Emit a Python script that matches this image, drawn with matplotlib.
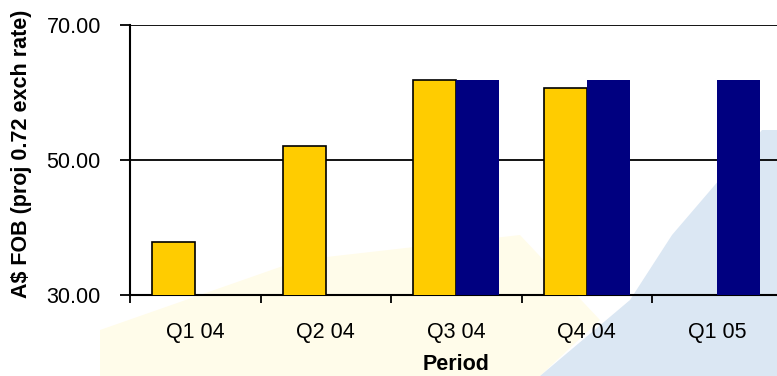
#!/usr/bin/env python3
"""A$ FOB by period - grouped bar chart"""

import numpy as np
import matplotlib.pyplot as plt
from matplotlib.patches import Polygon

plt.rcParams['font.family'] = ['Liberation Sans', 'DejaVu Sans']

# data
periods = ['Q1 04', 'Q2 04', 'Q3 04', 'Q4 04', 'Q1 05']
series_yellow = [37.9, 52.1, 61.8, 60.7, np.nan]
series_blue = [np.nan, np.nan, 61.9, 61.9, 61.9]
y_ticks = [30, 50, 70]

W, H = 777, 376
fig = plt.figure(figsize=(W / 100, H / 100), dpi=100)


def px(x, y):
    # pixel (from top-left) -> figure fraction
    return (x / W, 1 - y / H)


# faint watermark behind the chart
blue_bg = [(762, 130), (777, 130), (777, 376), (540, 376), (630, 300), (672, 235)]
yellow_bg = [(100, 376), (540, 376), (600, 320), (520, 235), (300, 260), (100, 330)]
fig.patches.append(Polygon([px(*p) for p in yellow_bg], closed=True,
                           transform=fig.transFigure, fc='#fffcea', ec='none', zorder=-5))
fig.patches.append(Polygon([px(*p) for p in blue_bg], closed=True,
                           transform=fig.transFigure, fc='#dbe7f3', ec='none', zorder=-5))

# axes runs past the right edge of the picture, like the reference
left, bottom_px, top_px, cat_w = 130, 295.3, 25, 130.5
ax = fig.add_axes([left / W, 1 - bottom_px / H, 5 * cat_w / W, (bottom_px - top_px) / H])
ax.set_facecolor('none')

x = np.arange(len(periods))
bw = 0.33
ax.bar(x - bw / 2, series_yellow, bw, color='#ffcc00',
       edgecolor='black', linewidth=1.2, zorder=3)
ax.bar(x + bw / 2, series_blue, bw, color='#000080', edgecolor='none', zorder=3)

ax.set_xlim(-0.5, len(periods) - 0.5)
ax.set_ylim(30, 70)
ax.set_yticks(y_ticks)
ax.set_yticklabels([f'{v:.2f}' for v in y_ticks])
ax.yaxis.grid(True, color='black', linewidth=1.3)
ax.set_axisbelow(True)

ax.set_xticks(x)
ax.set_xticklabels(periods)
ax.set_xticks(np.arange(len(periods) + 1) - 0.5, minor=True)
ax.tick_params(axis='x', which='major', length=0, pad=19, labelsize=15.5)
ax.tick_params(axis='x', which='minor', length=6, width=1.3, direction='out')
ax.tick_params(axis='y', length=7, width=1.3, pad=14, labelsize=15.5)

for s in ['top', 'right']:
    ax.spines[s].set_visible(False)
for s in ['left', 'bottom']:
    ax.spines[s].set_linewidth(1.5)

fig.text(*px(456, 364), 'Period', ha='center', va='center',
         fontsize=15.5, fontweight='bold')
fig.text(*px(22, 298), 'A$ FOB (proj 0.72 exch rate)', rotation=90,
         ha='center', va='bottom', fontsize=15.5, fontweight='bold')

fig.savefig('out.png', dpi=100)
